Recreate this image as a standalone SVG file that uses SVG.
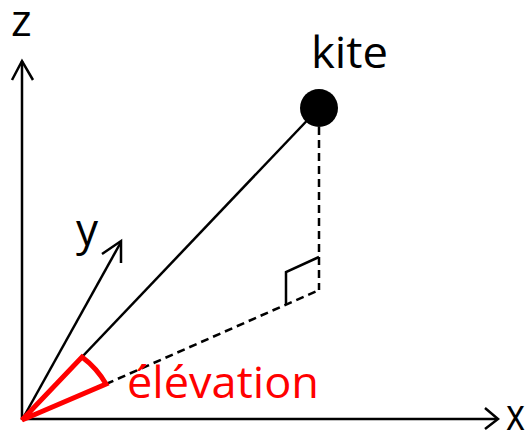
<svg xmlns="http://www.w3.org/2000/svg" width="525" height="432" viewBox="0 0 525 432">
<style>
.ln{stroke:#000;stroke-width:2.5;fill:none;stroke-linecap:butt}
.dash{stroke:#000;stroke-width:2.5;fill:none;stroke-dasharray:8 5}
.lbl{font-family:"Open Sans","Liberation Sans",sans-serif;font-size:44px;fill:#000}
.red{font-family:"Open Sans","Liberation Sans",sans-serif;font-size:44px;fill:#ff0000}
</style>
<rect width="525" height="432" fill="#fff"/>
<g id="connectors">
<path class="ln" d="M22,420 L22,61"/>
<path class="ln" d="M12,80 L22,61 L33,80"/>
<path class="ln" d="M22,419 L497,419"/>
<path class="ln" d="M485,408 L498,419 L485,429"/>
<path class="ln" d="M22,420 L121,242"/>
<path class="ln" d="M102,254 L121,241 L121,263"/>
<path class="ln" d="M22,420 L319,108"/>
<path class="dash" d="M319,127 L319,290"/>
<path class="dash" d="M106,384 L319,290"/>
<path class="ln" d="M286,304 L286,272 L319,257"/>
</g>
<g id="kite">
<circle cx="319" cy="108" r="19" fill="#000"/>
<text class="lbl" x="311" y="68" textLength="77" lengthAdjust="spacingAndGlyphs">kite</text>
</g>
<g id="elevation">
<path d="M22,420 L82,357 A89,89 0 0 1 106,384 Z" fill="none" stroke="#ff0000" stroke-width="5" stroke-linejoin="miter"/>
<text class="red" x="127" y="398" textLength="192" lengthAdjust="spacingAndGlyphs">élévation</text>
</g>
<g id="labels">
<text class="lbl" x="11" y="36">z</text>
<text class="lbl" x="76" y="245">y</text>
<text class="lbl" x="506" y="430" font-size="40" textLength="19" lengthAdjust="spacingAndGlyphs">x</text>
</g>
</svg>
